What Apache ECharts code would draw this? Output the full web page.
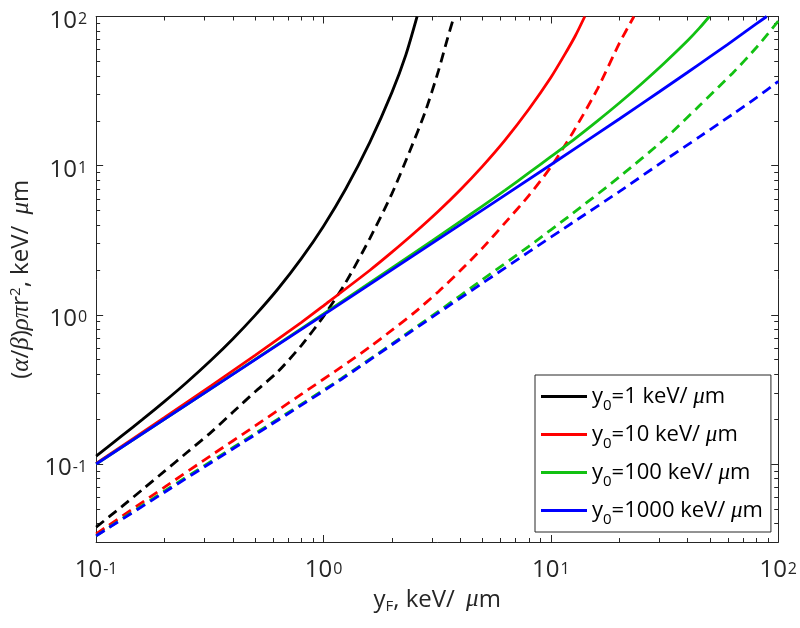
<!DOCTYPE html>
<html>
<head>
<meta charset="utf-8">
<script src="https://cdn.jsdelivr.net/npm/echarts@6/dist/echarts.min.js"></script>
<style>
html, body { margin: 0; padding: 0; background: #fff; }
#chart { width: 800px; height: 628px; }
</style>
</head>
<body>
<div id="chart"></div>
<script>
// values (log-log axes)
const xTicks = [0.1, 1, 10, 100];
const yTicks = [0.1, 1, 10, 100];

// y0 = 1 keV/um
const blackSolidX = [0.1, 0.13, 0.16, 0.2, 0.25, 0.32, 0.4, 0.5, 0.63, 0.8, 1.0, 1.25, 1.6, 2.0, 2.3, 2.58];
const blackSolidY = [0.113, 0.155, 0.199, 0.263, 0.352, 0.496, 0.692, 0.992, 1.49, 2.39, 3.93, 6.95, 14.4, 31, 55, 100];
const blackDashX = [0.1, 0.13, 0.16, 0.2, 0.25, 0.32, 0.4, 0.5, 0.63, 0.8, 1.0, 1.25, 1.6, 2.0, 2.4, 2.8, 3.2, 3.5, 3.75];
const blackDashY = [0.0377, 0.052, 0.0675, 0.0895, 0.119, 0.163, 0.223, 0.305, 0.416, 0.624, 0.977, 1.64, 3.26, 6.5, 12.6, 22.9, 43, 70, 100];

// y0 = 10 keV/um
const redSolidX = [0.1, 0.2, 0.32, 0.5, 0.8, 1.0, 1.6, 2.0, 2.5, 3.2, 4.0, 5.0, 6.3, 8.0, 10, 11.5, 12.8, 14.1];
const redSolidY = [0.101, 0.205, 0.334, 0.535, 0.89, 1.15, 1.99, 2.63, 3.52, 4.95, 6.9, 9.9, 14.9, 23.9, 39, 55.5, 74, 100];
const redDashX = [0.1, 0.2, 0.32, 0.5, 0.8, 1.2, 1.6, 2, 2.5, 3.2, 4, 5, 6.3, 8, 10, 12.5, 16, 20, 23.2];
const redDashY = [0.034, 0.07, 0.114, 0.18, 0.294, 0.448, 0.61, 0.79, 1.03, 1.43, 1.98, 2.8, 4.15, 6.3, 9.8, 16.7, 32.5, 66, 100];

// y0 = 100 keV/um
const greenSolidX = [0.1, 0.3, 1, 2, 3, 4, 5, 6.3, 8, 10, 12.5, 16, 20, 25, 31.5, 40, 45, 49.8];
const greenSolidY = [0.1, 0.3, 1.014, 2.06, 3.13, 4.23, 5.36, 6.86, 8.94, 11.5, 14.8, 19.9, 26.3, 35.3, 48.6, 69, 83.5, 100];
const greenDashX = [0.1, 0.2, 0.32, 0.5, 0.8, 1.2, 2, 3.2, 5, 8, 12.5, 20, 31.5, 45, 63, 80, 100];
const greenDashY = [0.033, 0.066, 0.104, 0.16, 0.252, 0.375, 0.638, 1.055, 1.72, 2.88, 4.8, 8.4, 15.0, 25.2, 41.7, 61.7, 93];

// y0 = 1000 keV/um
const blueSolidX = [0.1, 0.3, 1, 3, 10, 20, 30, 40, 50, 60, 70, 80, 89];
const blueSolidY = [0.1, 0.3, 1.0, 3.01, 10.14, 20.55, 31.3, 42.3, 53.6, 65.1, 77.0, 89.2, 100];
const blueDashX = [0.1, 0.2, 0.32, 0.5, 0.8, 1.2, 2, 3.2, 5, 8, 12.5, 20, 31.5, 45, 63, 80, 100];
const blueDashY = [0.033, 0.0647, 0.102, 0.157, 0.248, 0.37, 0.63, 1.03, 1.63, 2.64, 4.16, 6.7, 10.8, 15.6, 22.1, 28.5, 36.7];

const legendNames = ['y0=1', 'y0=10', 'y0=100', 'y0=1000'];
const legendValues = ['1', '10', '100', '1000'];

const axisColor = '#262626';
const font = 'Open Sans';
const greekFont = 'Liberation Serif';
const xMin = 0.1, xMax = 100, yMin = 0.03, yMax = 100;

const curve = (xs, ys) => xs.map((x, i) => [x, ys[i]]);

const powLabel = (v) => '{b|10}{s|' + Math.round(Math.log10(v)) + '}';
const labelRich = {
  b: { fontSize: 24, fontFamily: font, color: axisColor, lineHeight: 24, padding: [9, 0, 0, 0] },
  s: { fontSize: 16, fontFamily: font, color: axisColor, lineHeight: 16, verticalAlign: 'top', padding: [7, 0, 0, 1] },
};
const titleRich = {
  t: { fontSize: 24, fontFamily: font, color: axisColor },
  g: { fontSize: 25, fontFamily: greekFont, fontStyle: 'italic', color: axisColor },
  gm: { fontSize: 25, fontFamily: greekFont, fontStyle: 'italic', color: axisColor, padding: [0, 0, 0, 5] },
  sub: { fontSize: 15, fontFamily: font, color: axisColor, verticalAlign: 'bottom', padding: [13, 0, 0, 0] },
  sup: { fontSize: 15, fontFamily: font, color: axisColor, verticalAlign: 'top', padding: [0, 0, 11, 0] },
};
const lineStyleAxis = { color: axisColor, width: 1 };

// log axis: inward decade ticks + 2..9 minor ticks; labels only on the main one
function logAxis(min, max, position, labels, margin, name, nameGap) {
  const axis = {
    type: 'log',
    logBase: 10,
    min: min,
    max: max,
    position: position,
    axisLine: { show: true, onZero: false, lineStyle: lineStyleAxis },
    axisTick: { show: true, inside: true, length: 7, lineStyle: lineStyleAxis },
    minorTick: { show: true, splitNumber: 9, length: 4, lineStyle: lineStyleAxis },
    axisLabel: labels
      ? { show: true, customValues: labels, formatter: powLabel, rich: labelRich, margin: margin }
      : { show: false },
    splitLine: { show: false },
    minorSplitLine: { show: false },
  };
  if (name) {
    axis.name = name;
    axis.nameLocation = 'middle';
    axis.nameGap = nameGap;
    axis.nameTextStyle = { rich: titleRich };
  }
  return axis;
}

const solid = (name, color, data) => ({
  name: name, type: 'line', data: data, symbol: 'none', smooth: 0.25,
  lineStyle: { color: color, width: 2.8 }, itemStyle: { color: color }, z: 3,
});
const dashed = (name, color, data) => ({
  name: name, type: 'line', data: data, symbol: 'none', smooth: 0.25,
  lineStyle: { color: color, width: 2.8, type: [10, 6] }, itemStyle: { color: color }, z: 3,
});

const chart = echarts.init(document.getElementById('chart'), null, { renderer: 'canvas' });

const option = {
  animation: false,
  backgroundColor: '#fff',
  grid: { left: 91, right: 17, top: 12, bottom: 86, containLabel: false },
  xAxis: [
    logAxis(xMin, xMax, 'bottom', xTicks, 12, '{t|y}{sub|F}{t|, keV/ }{gm|μ}{t|m}', 42),
    logAxis(xMin, xMax, 'top'),
  ],
  yAxis: [
    logAxis(yMin, yMax, 'left', yTicks, 9, '{t|(}{g|α}{t|/}{g|β}{t|)}{g|ρπ}{t|r}{sup|2}{t|, keV/ }{gm|μ}{t|m}', 47),
    logAxis(yMin, yMax, 'right'),
  ],
  legend: {
    data: legendNames,
    orient: 'vertical',
    left: 535,
    top: 375,
    padding: [5, 8, 5, 6],
    itemGap: 5,
    itemWidth: 46,
    itemHeight: 3,
    icon: 'rect',
    borderColor: axisColor,
    borderWidth: 1,
    backgroundColor: '#fff',
    formatter: (name) => '{t|y}{sub|0}{t|=' + legendValues[legendNames.indexOf(name)] + ' keV/ }{g|μ}{t|m}',
    textStyle: {
      rich: {
        t: { fontSize: 22, fontFamily: font, color: '#000', lineHeight: 24 },
        g: { fontSize: 23, fontFamily: greekFont, fontStyle: 'italic', color: '#000', lineHeight: 24 },
        sub: { fontSize: 15, fontFamily: font, color: '#000', lineHeight: 14, padding: [18, 0, 0, 0] },
      },
    },
  },
  series: [
    solid(legendNames[0], '#000000', curve(blackSolidX, blackSolidY)),
    dashed('dash1', '#000000', curve(blackDashX, blackDashY)),
    solid(legendNames[1], '#ff0000', curve(redSolidX, redSolidY)),
    dashed('dash10', '#ff0000', curve(redDashX, redDashY)),
    solid(legendNames[2], '#12c112', curve(greenSolidX, greenSolidY)),
    dashed('dash100', '#12c112', curve(greenDashX, greenDashY)),
    solid(legendNames[3], '#0000ff', curve(blueSolidX, blueSolidY)),
    dashed('dash1000', '#0000ff', curve(blueDashX, blueDashY)),
  ],
};

chart.setOption(option);
</script>
</body>
</html>
